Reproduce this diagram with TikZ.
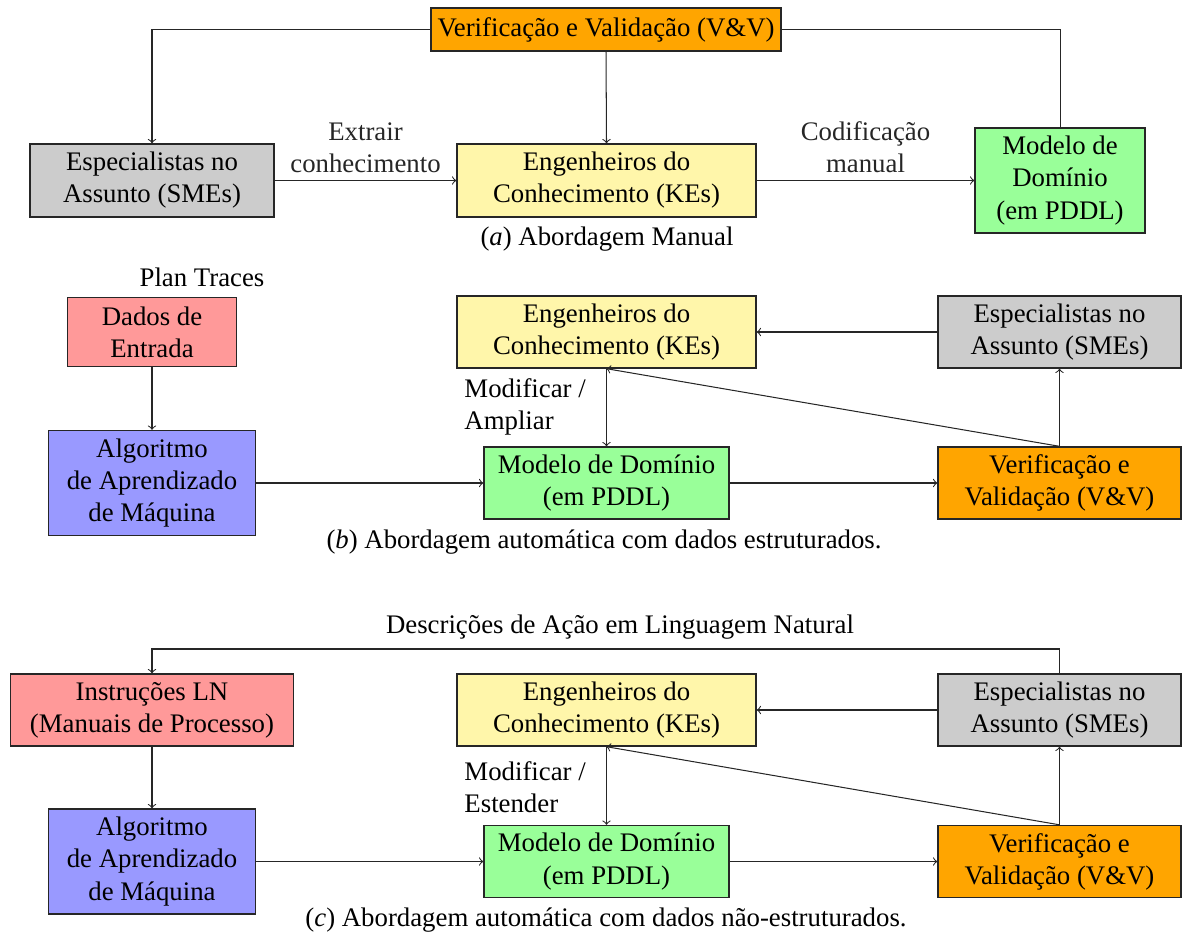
\documentclass[tikz,border=0pt]{standalone}
\usepackage{fontspec}
\setmainfont{Liberation Serif}
\def\pxu{0.4367pt}
\definecolor{cOrange}{HTML}{FFA500}
\definecolor{cGray}{HTML}{CCCCCC}
\definecolor{cYellow}{HTML}{FFF6AA}
\definecolor{cGreen}{HTML}{99FF99}
\definecolor{cRed}{HTML}{FF9999}
\definecolor{cBlue}{HTML}{9999FF}
\tikzset{
  box/.style={draw=black!85, line width=0.6pt, align=center, inner sep=2pt},
  sz/.style 2 args={minimum width=#1*\pxu, minimum height=#2*\pxu},
  lbl/.style={align=center},
  arr/.style={->, black!85, line width=0.45pt},
  wire/.style={black!85, line width=0.45pt},
}
\begin{document}
\begin{tikzpicture}[x=\pxu, y=-\pxu, font=\fontsize{11.7}{14}\selectfont]
\useasboundingbox (0,0) rectangle (1183,936);

% ---------- (a) manual approach ----------
\node[box, fill=cOrange, sz={350}{43}] (vvA) at (606,29.5) {Verificação e Validação (V\&V)};
\node[box, fill=cGray, sz={244}{73}] (smA) at (152,180.5) {Especialistas no\\Assunto (SMEs)};
\node[box, fill=cYellow, sz={299}{73}] (keA) at (606.5,180.5) {Engenheiros do\\Conhecimento (KEs)};
\node[box, fill=cGreen, sz={170}{105}] (mdA) at (1060,180.5) {Modelo de\\Domínio\\(em PDDL)};
\node (capA) at (607,239) {(\textit{a}) Abordagem Manual};

\draw[arr] (vvA.west) -| (smA.north);
\draw[arr] (vvA.south) -- (keA.north);
\draw[wire] (vvA.east) -| (mdA.north);
\draw[arr] (smA.east) -- node[lbl, above] {Extrair\\conhecimento} (keA.west);
\draw[arr] (keA.east) -- node[lbl, above] {Codificação\\manual} (mdA.west);

% ---------- (b) structured data ----------
\node (ptB) at (202,277) {Plan Traces};
\node[box, fill=cRed, sz={169}{69}] (daB) at (152,332) {Dados de\\Entrada};
\node[box, fill=cYellow, sz={299}{72}] (keB) at (606.5,332) {Engenheiros do\\Conhecimento (KEs)};
\node[box, fill=cGray, sz={243}{72}] (smB) at (1059.5,332) {Especialistas no\\Assunto (SMEs)};
\node[box, fill=cBlue, sz={207}{105}] (alB) at (152,483) {Algoritmo\\de Aprendizado\\de Máquina};
\node[box, fill=cGreen, sz={245}{72}] (mdB) at (606.5,483) {Modelo de Domínio\\(em PDDL)};
\node[box, fill=cOrange, sz={243}{72}] (vvB) at (1059.5,483) {Verificação e\\Validação (V\&V)};
\node[align=left, anchor=west, inner sep=0pt] (mmB) at (464,407) {Modificar /\\Ampliar};
\node (capB) at (604,542) {(\textit{b}) Abordagem automática com dados estruturados.};

\draw[arr] (daB) -- (alB);
\draw[arr] (alB) -- (mdB);
\draw[arr] (mdB) -- (vvB);
\draw[arr] (vvB) -- (smB);
\draw[arr] (smB) -- (keB);
\draw[arr] (vvB.north) -- (keB.south);
\draw[arr] (keB.south) -- (mdB.north);

% ---------- (c) unstructured data ----------
\node (dsC) at (620,627) {Descrições de Ação em Linguagem Natural};
\coordinate (tC) at (1059.5,649);
\node[box, fill=cRed, sz={283}{72}] (inC) at (152,710) {Instruções LN\\(Manuais de Processo)};
\node[box, fill=cYellow, sz={299}{72}] (keC) at (606.5,710) {Engenheiros do\\Conhecimento (KEs)};
\node[box, fill=cGray, sz={243}{72}] (smC) at (1059.5,710) {Especialistas no\\Assunto (SMEs)};
\node[box, fill=cBlue, sz={207}{105}] (alC) at (152,861.5) {Algoritmo\\de Aprendizado\\de Máquina};
\node[box, fill=cGreen, sz={245}{72}] (mdC) at (606.5,861.5) {Modelo de Domínio\\(em PDDL)};
\node[box, fill=cOrange, sz={243}{72}] (vvC) at (1059.5,861.5) {Verificação e\\Validação (V\&V)};
\node[align=left, anchor=west, inner sep=0pt] (mmC) at (464,787) {Modificar /\\Estender};
\node (capC) at (606,920) {(\textit{c}) Abordagem automática com dados não-estruturados.};

\draw[arr] (smC.north) -- (tC) -| (inC.north);
\draw[arr] (inC) -- (alC);
\draw[arr] (alC) -- (mdC);
\draw[arr] (mdC) -- (vvC);
\draw[arr] (vvC) -- (smC);
\draw[arr] (smC) -- (keC);
\draw[arr] (vvC.north) -- (keC.south);
\draw[arr] (keC.south) -- (mdC.north);
\end{tikzpicture}
\end{document}
